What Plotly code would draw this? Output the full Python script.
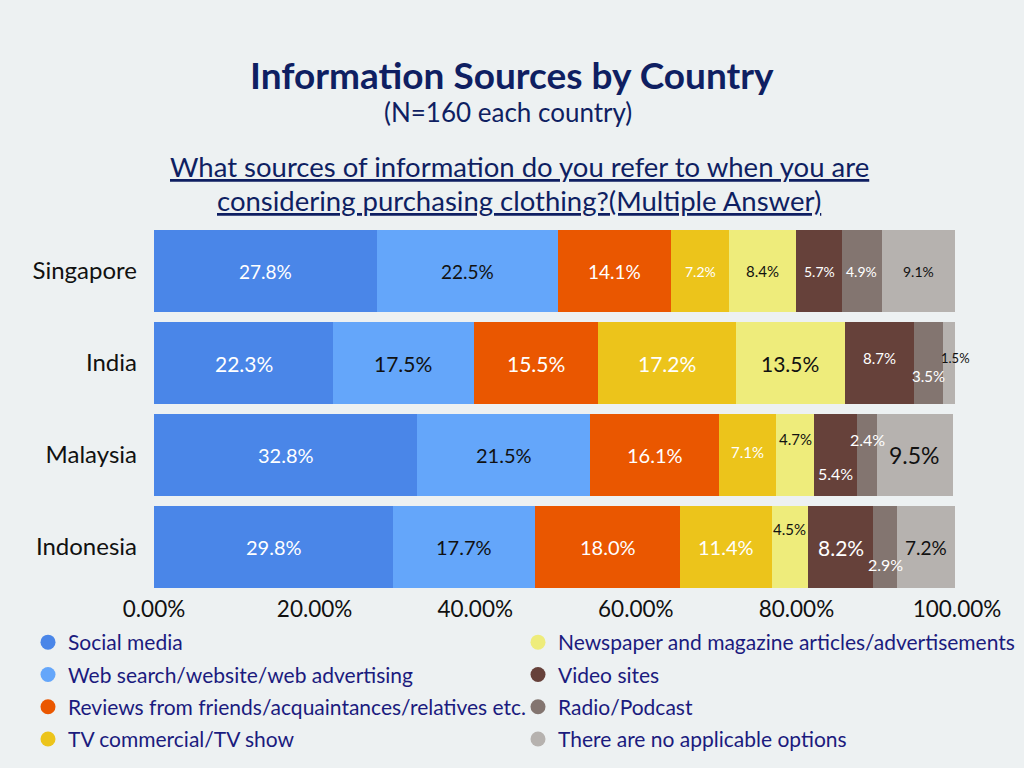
import numpy as np
import plotly.graph_objects as go

countries = ["Singapore", "India", "Malaysia", "Indonesia"]
series_names = [
    "Social media",
    "Web search/website/web advertising",
    "Reviews from friends/acquaintances/relatives etc.",
    "TV commercial/TV show",
    "Newspaper and magazine articles/advertisements",
    "Video sites",
    "Radio/Podcast",
    "There are no applicable options",
]
social_media = [27.8, 22.3, 32.8, 29.8]
web_search = [22.5, 17.5, 21.5, 17.7]
reviews = [14.1, 15.5, 16.1, 18.0]
tv = [7.2, 17.2, 7.1, 11.4]
newspaper = [8.4, 13.5, 4.7, 4.5]
video_sites = [5.7, 8.7, 5.4, 8.2]
radio = [4.9, 3.5, 2.4, 2.9]
no_option = [9.1, 1.5, 9.5, 7.2]
series_values = [social_media, web_search, reviews, tv, newspaper, video_sites, radio, no_option]
x_ticks = [0, 20, 40, 60, 80, 100]

# styles
colors = ["#4a86e8", "#64a6fa", "#ea5700", "#ecc41b", "#eeec7b", "#66413a", "#837570", "#b6b2af"]
label_colors = ["white", "#111111", "white", "white", "#111111", "white", "white", "#111111"]
label_sizes = [
    [19, 19, 19, 14, 15, 14, 14, 14],
    [21, 21, 21, 21, 21, 15, 15, 13],
    [20, 20, 20, 15, 15, 16, 16, 23],
    [20, 20, 20, 20, 15, 21, 16, 19],
]
label_yshift = [
    [0, 0, 0, 0, 0, 0, 0, 0],
    [0, 0, 0, 0, 0, 5, -13, 5],
    [0, 0, 0, 3, 16, -18, 16, 0],
    [0, 0, 0, 0, 18, 0, -17, 0],
]
label_xshift = [
    [0, 0, 0, 0, 0, 0, 0, 0],
    [0, 0, 0, 0, 0, 0, 0, 7],
    [0, 0, 0, 0, 0, 0, 0, 0],
    [0, 0, 0, 0, 0, 0, 0, 0],
]
BG = "#edf1f2"
NAVY = "#0f1f62"
LEGEND_TXT = "#1b1b7e"
FONT = "Lato"
W, H = 1024, 768
M_L, M_R, M_T, M_B = 154, 67, 225, 175
PLOT_H = H - M_T - M_B
PLOT_W = W - M_L - M_R


def py_to_paper(py):
    return (H - M_B - py) / PLOT_H


def px_to_paper(px):
    return (px - M_L) / PLOT_W


fig = go.Figure()
for name, vals, col in zip(series_names, series_values, colors):
    fig.add_trace(go.Bar(
        x=vals, y=countries, orientation="h", name=name,
        marker=dict(color=col, line=dict(width=0)),
        showlegend=False, hoverinfo="x+y+name",
    ))

# legend entries with circle markers
for i, (name, col) in enumerate(zip(series_names, colors)):
    fig.add_trace(go.Scatter(
        x=[None], y=[None], mode="markers", name=name,
        marker=dict(color=col, size=15, symbol="circle"),
        legend="legend" if i < 4 else "legend2",
        legendgroup=f"g{i}", showlegend=True,
    ))

# value labels
vals_arr = np.array(series_values)  # series x countries
cum = np.cumsum(vals_arr, axis=0)
starts = cum - vals_arr
annotations = []
for s in range(len(series_names)):
    for c, country in enumerate(countries):
        v = vals_arr[s, c]
        annotations.append(dict(
            x=starts[s, c] + v / 2, y=country, xref="x", yref="y",
            text=f"{v:.1f}%", showarrow=False,
            font=dict(family=FONT, size=label_sizes[c][s], color=label_colors[s]),
            yshift=label_yshift[c][s], xshift=label_xshift[c][s],
        ))

annotations += [
    dict(text="<b>Information Sources by Country</b>", x=px_to_paper(512), y=py_to_paper(74),
         xref="paper", yref="paper", xanchor="center", yanchor="middle", showarrow=False,
         font=dict(family=FONT, size=37, color=NAVY)),
    dict(text="(N=160 each country)", x=px_to_paper(508), y=py_to_paper(112),
         xref="paper", yref="paper", xanchor="center", yanchor="middle", showarrow=False,
         font=dict(family=FONT, size=26, color=NAVY)),
    dict(text="<u>What sources of information do you refer to when you are</u>", x=px_to_paper(519),
         y=py_to_paper(166), xref="paper", yref="paper", xanchor="center", yanchor="middle",
         showarrow=False, font=dict(family=FONT, size=27.5, color=NAVY)),
    dict(text="<u>considering purchasing clothing?(Multiple Answer)</u>", x=px_to_paper(519),
         y=py_to_paper(200), xref="paper", yref="paper", xanchor="center", yanchor="middle",
         showarrow=False, font=dict(family=FONT, size=27.5, color=NAVY)),
]

legend_common = dict(
    orientation="v", xref="container", yref="container", xanchor="left", yanchor="top",
    bgcolor="rgba(0,0,0,0)", font=dict(family=FONT, size=21, color=LEGEND_TXT),
    tracegroupgap=2, itemclick=False, itemdoubleclick=False,
)

fig.update_layout(
    width=W, height=H,
    barmode="stack", bargap=0.11,
    paper_bgcolor=BG, plot_bgcolor=BG,
    margin=dict(l=M_L, r=M_R, t=M_T, b=M_B, autoexpand=False),
    font=dict(family=FONT, color="#111111"),
    xaxis=dict(range=[0, 100], tickvals=x_ticks, ticktext=[f"{t:.2f}%" for t in x_ticks],
               showgrid=False, zeroline=False, showline=False, ticks="",
               tickfont=dict(family=FONT, size=22.5, color="#111111")),
    yaxis=dict(categoryorder="array", categoryarray=countries[::-1],
               showgrid=False, zeroline=False, showline=False, ticks="", ticklen=0,
               ticklabelstandoff=16,
               tickfont=dict(family=FONT, size=24, color="#111111")),
    legend=dict(x=28 / W, y=1 - 622 / H, **legend_common),
    legend2=dict(x=518 / W, y=1 - 622 / H, **legend_common),
    annotations=annotations,
    showlegend=True,
)

fig.write_html(
    "out.html",
    config={"displayModeBar": False},
    post_script="document.body.style.margin='0';document.body.style.background='" + BG + "';",
)
